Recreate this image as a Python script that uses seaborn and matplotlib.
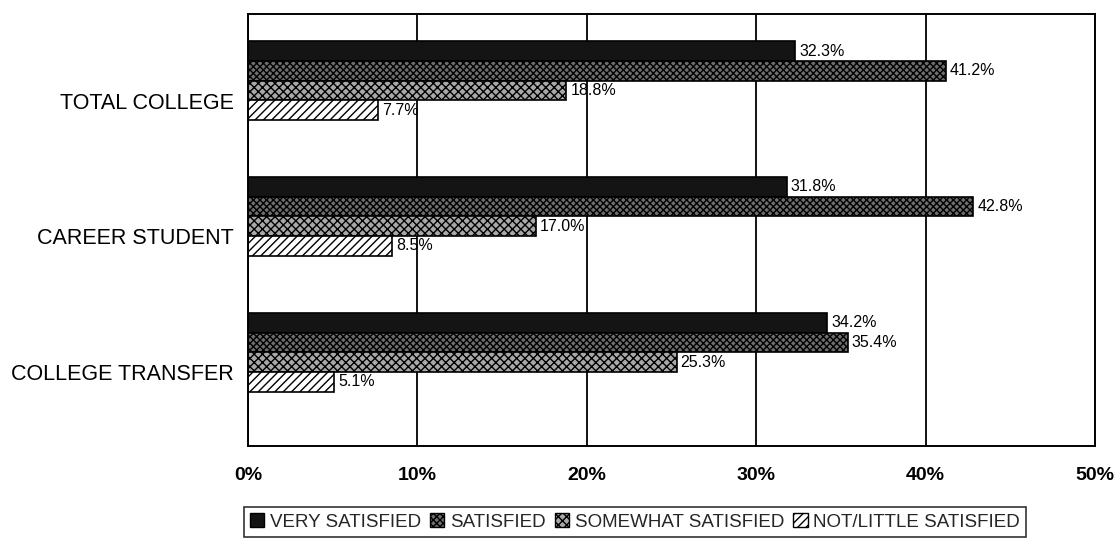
import numpy as np
import pandas as pd
import matplotlib
matplotlib.use("Agg")
import matplotlib.pyplot as plt
import matplotlib.transforms as mtransforms
from matplotlib.patches import Patch
from matplotlib.ticker import PercentFormatter
import seaborn as sns

categories = ["TOTAL COLLEGE", "CAREER STUDENT", "COLLEGE TRANSFER"]
levels = ["VERY SATISFIED", "SATISFIED", "SOMEWHAT SATISFIED", "NOT/LITTLE SATISFIED"]
very_satisfied = [32.3, 31.8, 34.2]
satisfied = [41.2, 42.8, 35.4]
somewhat_satisfied = [18.8, 17.0, 25.3]
not_little_satisfied = [7.7, 8.5, 5.1]
x_ticks = [0, 10, 20, 30, 40, 50]

rows = []
for lvl, vals in zip(levels, [very_satisfied, satisfied, somewhat_satisfied, not_little_satisfied]):
    for c, v in zip(categories, vals):
        rows.append({"group": c, "level": lvl, "pct": v})
df = pd.DataFrame(rows)

sns.set_theme(style="white")
plt.rcParams["font.family"] = ["Liberation Sans", "DejaVu Sans"]

fig = plt.figure(figsize=(11.16, 5.49), dpi=100)
ax = fig.add_axes([248/1116, 1 - 446/549, (1095-248)/1116, (446-14)/549])

faces = ["#141414", "#6e6e6e", "#a8a8a8", "white"]
hatches = ["", "xxxxx", "xxxx", "////"]

sns.barplot(data=df, y="group", x="pct", hue="level", order=categories,
            hue_order=levels, orient="h", width=0.58, ax=ax,
            palette=faces, saturation=1, legend=False, errorbar=None)

for cont, fc, h in zip(ax.containers, faces, hatches):
    for p in cont:
        p.set_facecolor(fc)
        p.set_edgecolor("black")
        p.set_linewidth(1.2)
        p.set_hatch(h)
    ax.bar_label(cont, labels=[f"{v:.1f}%" for v in cont.datavalues],
                 padding=3, fontsize=11.5, color="black")

ax.set_xlim(0, 50)
ax.set_ylim(2.69, -0.49)
ax.set_xticks(x_ticks)
ax.xaxis.set_major_formatter(PercentFormatter(decimals=0))
for lab in ax.get_xticklabels():
    lab.set_fontweight("bold")
    lab.set_fontsize(14)
ax.tick_params(axis="x", length=0, pad=15, colors="black")
ax.tick_params(axis="y", length=0, pad=10, labelsize=15.5, colors="black")
ax.set_xlabel("")
ax.set_ylabel("")

offset = mtransforms.ScaledTranslation(0, -20/100, fig.dpi_scale_trans)
for lab in ax.get_yticklabels():
    lab.set_transform(lab.get_transform() + offset)

ax.grid(axis="x", color="black", linewidth=1.3)
ax.grid(axis="y", visible=False)
ax.set_axisbelow(True)
for s in ax.spines.values():
    s.set_color("black")
    s.set_linewidth(1.4)

handles = [Patch(facecolor=fc, edgecolor="black", hatch=h, label=l)
           for fc, h, l in zip(faces, hatches, levels)]
leg = fig.legend(handles=handles, loc="center", ncol=4,
                 bbox_to_anchor=(635/1116, 1 - 522/549), frameon=True,
                 fontsize=13.5, handlelength=0.75, handleheight=0.75,
                 handletextpad=0.3, columnspacing=0.5, borderpad=0.35,
                 fancybox=False)
leg.get_frame().set_edgecolor("black")
leg.get_frame().set_linewidth(1.2)

fig.savefig("out.png", dpi=100)
